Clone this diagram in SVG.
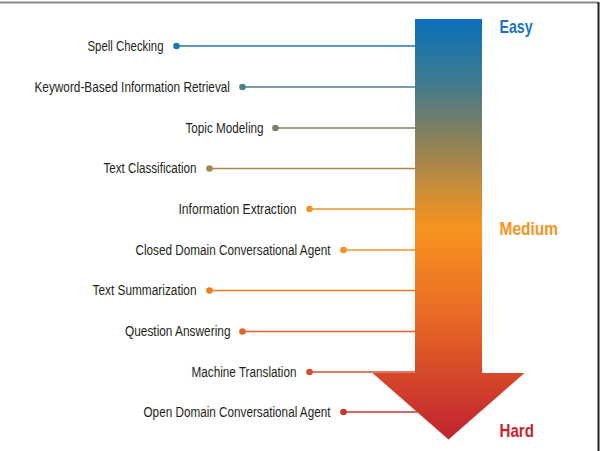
<svg xmlns="http://www.w3.org/2000/svg" width="601" height="451" viewBox="0 0 601 451">
<defs>
<linearGradient id="g" gradientUnits="userSpaceOnUse" x1="0" y1="19" x2="0" y2="439">
<stop offset="0" stop-color="#0b70bb"/>
<stop offset="0.14" stop-color="#3a7a93"/>
<stop offset="0.29" stop-color="#8c8158"/>
<stop offset="0.4" stop-color="#c98d3a"/>
<stop offset="0.5" stop-color="#f7941d"/>
<stop offset="0.7" stop-color="#ea6a26"/>
<stop offset="1" stop-color="#c0232e"/>
</linearGradient>
<style>
.lbl{font-family:"Liberation Sans",Arial,sans-serif;font-size:14px;fill:#231f20;text-anchor:end}
.lvl{font-family:"Liberation Sans",Arial,sans-serif;font-size:18.5px;font-weight:bold}
.c{stroke-width:1.5;fill:none}
</style>
</defs>
<rect width="601" height="451" fill="#fff"/>
<line x1="0" y1="2.5" x2="598" y2="2.5" stroke="#8a8a8a" stroke-width="2"/>
<line x1="598.5" y1="2" x2="598.5" y2="451" stroke="#222" stroke-width="2"/>
<g id="connectors">
<line class="c" x1="176.5" y1="46" x2="416" y2="46" stroke="#1f74ae"/>
<line class="c" x1="242.5" y1="87" x2="416" y2="87" stroke="#4a7f90"/>
<line class="c" x1="275.5" y1="128" x2="416" y2="128" stroke="#7f8068"/>
<line class="c" x1="209.5" y1="168.5" x2="416" y2="168.5" stroke="#a88650"/>
<line class="c" x1="309.5" y1="209" x2="416" y2="209" stroke="#f0932a"/>
<line class="c" x1="343.5" y1="250" x2="416" y2="250" stroke="#f39020"/>
<line class="c" x1="209.5" y1="290.5" x2="416" y2="290.5" stroke="#ee7a26"/>
<line class="c" x1="242.5" y1="331.5" x2="416" y2="331.5" stroke="#e2622b"/>
<line class="c" x1="309.5" y1="372" x2="416" y2="372" stroke="#d94f2c"/>
<line class="c" x1="343.5" y1="412" x2="418" y2="412" stroke="#c9352d"/>
</g>
<g id="arrow">
<path d="M415,19 H482 V373 H524.5 L448.5,439.5 L372.5,373 H415 Z" fill="url(#g)"/>
</g>
<g id="n1"><circle cx="176.5" cy="46" r="3.3" fill="#1f74ae"/><text class="lbl" x="163.5" y="50.8" textLength="76" lengthAdjust="spacingAndGlyphs">Spell Checking</text></g>
<g id="n2"><circle cx="242.5" cy="87" r="3.3" fill="#4a7f90"/><text class="lbl" x="230" y="91.8" textLength="195.5" lengthAdjust="spacingAndGlyphs">Keyword-Based Information Retrieval</text></g>
<g id="n3"><circle cx="275.5" cy="128" r="3.3" fill="#7f8068"/><text class="lbl" x="263.5" y="132.8" textLength="78" lengthAdjust="spacingAndGlyphs">Topic Modeling</text></g>
<g id="n4"><circle cx="209.5" cy="168.5" r="3.3" fill="#a88650"/><text class="lbl" x="196.5" y="173.3" textLength="93" lengthAdjust="spacingAndGlyphs">Text Classification</text></g>
<g id="n5"><circle cx="309.5" cy="209" r="3.3" fill="#f0932a"/><text class="lbl" x="296.5" y="213.8" textLength="118" lengthAdjust="spacingAndGlyphs">Information Extraction</text></g>
<g id="n6"><circle cx="343.5" cy="250" r="3.3" fill="#f39020"/><text class="lbl" x="330.5" y="254.8" textLength="195" lengthAdjust="spacingAndGlyphs">Closed Domain Conversational Agent</text></g>
<g id="n7"><circle cx="209.5" cy="290.5" r="3.3" fill="#ee7a26"/><text class="lbl" x="196.5" y="295.3" textLength="104" lengthAdjust="spacingAndGlyphs">Text Summarization</text></g>
<g id="n8"><circle cx="242.5" cy="331.5" r="3.3" fill="#e2622b"/><text class="lbl" x="230.5" y="336.3" textLength="105.5" lengthAdjust="spacingAndGlyphs">Question Answering</text></g>
<g id="n9"><circle cx="309.5" cy="372" r="3.3" fill="#d94f2c"/><text class="lbl" x="296.5" y="376.8" textLength="105" lengthAdjust="spacingAndGlyphs">Machine Translation</text></g>
<g id="n10"><circle cx="343.5" cy="412" r="3.3" fill="#c9352d"/><text class="lbl" x="330.5" y="416.8" textLength="187" lengthAdjust="spacingAndGlyphs">Open Domain Conversational Agent</text></g>
<g id="levels">
<text class="lvl" x="499.5" y="33" fill="#1a74ba" textLength="33" lengthAdjust="spacingAndGlyphs">Easy</text>
<text class="lvl" x="499.5" y="235" fill="#f7941d" textLength="58.5" lengthAdjust="spacingAndGlyphs">Medium</text>
<text class="lvl" x="499.5" y="436.5" fill="#c4262e" textLength="34.5" lengthAdjust="spacingAndGlyphs">Hard</text>
</g>
</svg>
